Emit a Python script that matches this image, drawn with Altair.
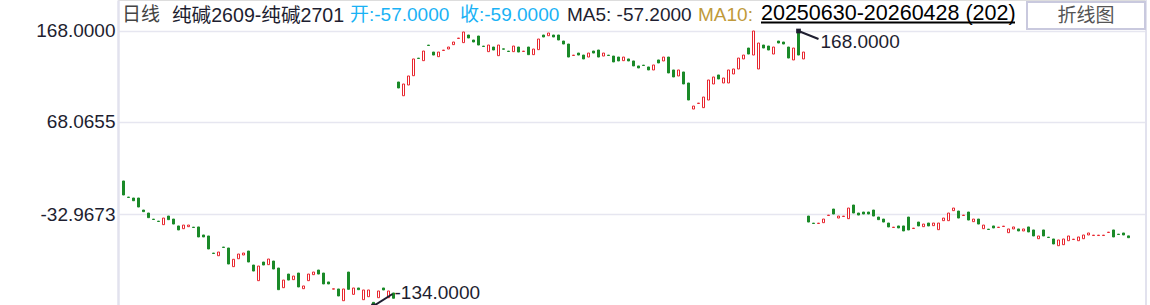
import altair as alt
import pandas as pd

# ---- data (open / close of each daily body) ----
opens = [
    3.3, -14.4, -15.4, -15.4, -28.6, -31.9, -38.6, -40.8, -44.7, -35.2,
    -38.5, -46.1, -49.1, -46.9, -47.4, -47.2, -56.0, -57.1, -75.9, -78.8,
    -69.3, -70.3, -90.8, -82.1, -78.0, -73.6, -89.0, -106.2, -85.7, -88.6,
    -84.6, -92.3, -113.9, -98.9, -105.1, -97.8, -115.0, -106.2, -99.6, -94.5,
    -97.8, -107.6, -115.5, -115.3, -128.2, -96.7, -121.2, -114.2, -127.1, -123.8,
    -130.0, -124.9, -114.2, -124.9, -119.7,
    112.0, 96.9, 108.7, 118.9, 138.2, 135.4, 152.5, 144.9, 139.8, 146.6,
    148.2, 153.0, 159.8, 155.2, 163.6, 158.1, 162.5, 151.4, 145.3, 150.4,
    140.9, 148.4, 145.9, 145.3, 150.4, 145.5, 150.4, 142.0, 147.5, 163.6,
    162.8, 163.6, 163.6, 157.0, 153.7, 141.1, 143.8, 141.6, 139.4, 146.0,
    147.1, 140.5, 141.5, 140.5, 139.4, 135.4, 137.3, 135.1, 129.6, 130.5,
    128.5, 125.2, 136.2, 135.1, 139.4, 125.2, 118.6, 123.0, 110.9, 82.3,
    88.4, 83.8, 92.2, 109.8, 119.7, 110.9, 110.9, 120.8, 126.3, 137.3,
    149.3, 141.6, 126.3, 152.6, 151.5, 142.7, 157.0, 155.9, 150.4, 136.2,
    168.0, 137.3,
    -35.2, -43.0, -43.4, -42.5, -34.6, -27.5, -37.4, -35.7, -38.1, -23.1,
    -31.9, -30.8, -30.8, -28.6, -36.3, -38.5, -42.9, -47.8, -46.1, -46.1,
    -36.3, -48.9, -41.8, -46.9, -42.9, -45.8, -50.2, -40.3, -40.3, -29.3,
    -29.7, -34.6, -30.8, -41.4, -38.5, -49.1, -49.6, -46.1, -47.8, -46.7,
    -53.5, -49.4, -49.4, -51.6, -47.2, -50.5, -60.1, -50.5, -58.4, -60.4,
    -67.8, -66.7, -62.3, -61.0, -62.3, -60.1, -56.0, -56.6, -56.6, -56.6,
    -53.3, -50.5, -55.1, -53.8, -57.0,
]
closes = [
    -12.1, -14.8, -18.4, -25.3, -30.4, -37.0, -39.0, -41.2, -37.4, -39.2,
    -44.0, -50.5, -45.1, -45.1, -47.8, -58.2, -58.2, -71.4, -76.3, -74.7,
    -69.7, -87.9, -82.7, -76.9, -75.8, -85.7, -95.6, -90.1, -89.0, -82.4,
    -93.4, -116.1, -105.5, -105.5, -101.1, -113.1, -112.0, -98.9, -96.7, -98.9,
    -109.8, -109.8, -115.1, -123.0, -115.3, -115.7, -114.2, -116.1, -116.4, -116.4,
    -134.0, -117.5, -116.4, -117.5, -125.5,
    105.4, 109.8, 118.6, 137.3, 137.8, 146.0, 152.1, 141.6, 144.9, 147.0,
    150.4, 155.9, 160.2, 166.9, 160.3, 155.9, 152.6, 151.0, 152.6, 147.1,
    152.6, 148.0, 145.5, 151.5, 144.9, 145.9, 142.0, 148.2, 159.2, 161.4,
    165.8, 161.4, 158.1, 153.7, 139.4, 141.5, 141.6, 137.3, 143.8, 143.8,
    139.4, 143.8, 141.1, 134.0, 135.1, 139.4, 135.1, 129.6, 127.4, 130.1,
    125.2, 130.7, 132.9, 139.4, 121.9, 117.5, 125.2, 109.8, 92.2, 85.6,
    88.8, 95.5, 114.2, 117.5, 115.3, 116.4, 125.2, 126.3, 138.3, 141.6,
    142.7, 168.0, 154.8, 149.3, 147.1, 150.4, 154.8, 153.7, 138.3, 149.3,
    141.6, 144.9,
    -41.8, -43.4, -43.0, -38.5, -34.2, -33.0, -35.2, -35.3, -26.4, -31.9,
    -34.1, -33.0, -33.0, -35.2, -39.2, -41.8, -47.2, -47.4, -48.3, -51.6,
    -50.5, -48.5, -46.1, -44.0, -46.1, -42.9, -42.9, -37.4, -31.9, -26.4,
    -37.4, -34.2, -39.6, -38.5, -44.0, -45.1, -50.0, -48.3, -47.4, -46.3,
    -49.4, -47.2, -51.6, -49.4, -52.7, -57.1, -57.1, -57.1, -58.8, -65.9,
    -61.5, -60.4, -57.1, -60.6, -58.2, -56.0, -53.8, -56.2, -56.2, -56.2,
    -52.9, -58.2, -55.5, -56.0, -59.0,
]
y_ticks = [168.0, 68.0655, -32.9673]
max_idx, max_val, max_label = 135, 168.0, "168.0000"
min_idx, min_val, min_label = 50, -134.0, "-134.0000"

header_parts = ["日线", "纯碱2609-纯碱2701", "开:-57.0000", "收:-59.0000",
                "MA5: -57.2000", "MA10:", "20250630-20260428 (202)"]
button_label = "折线图"

# ---- styling ----
RED = "#e8262f"
GREEN = "#1a8a28"
DARK = "#1e1e30"
GRID = "#e6e6f0"
FONT = "Liberation Sans, Arial, Noto Sans CJK SC"

df = pd.DataFrame({"i": list(range(len(opens))), "open": opens, "close": closes})
df["x0"] = df["i"] - 0.2
df["x1"] = df["i"] + 0.2
df["up"] = df["close"] > df["open"]

W, H = 1028, 305
X = alt.Scale(domain=[-1.1, 204.5], nice=False, zero=False)
Y = alt.Scale(domain=[-132.9, 202.04], nice=False, zero=False)
YAX = alt.Axis(values=y_ticks, grid=True, gridColor=GRID, title=None,
               labelExpr="replace(format(datum.value, '.4f'), '\u2212', '-')",
               gridWidth=1.5, domain=True, domainColor="#e2e2ee", domainWidth=2.5,
               ticks=False, labelFontSize=19, labelColor=DARK, labelFont=FONT,
               labelPadding=3, labelBaseline="middle")

base = alt.Chart(df)
green = base.transform_filter("!datum.up").mark_rect(
    fill=GREEN, stroke=GREEN, strokeWidth=1, clip=True
).encode(
    x=alt.X("x0:Q", scale=X, axis=None),
    x2="x1:Q",
    y=alt.Y("open:Q", scale=Y, axis=YAX),
    y2="close:Q",
)
red = base.transform_filter("datum.up").mark_rect(
    fill="white", stroke=RED, strokeWidth=1, clip=True
).encode(
    x=alt.X("x0:Q", scale=X, axis=None),
    x2="x1:Q",
    y=alt.Y("open:Q", scale=Y, axis=YAX),
    y2="close:Q",
)

one = pd.DataFrame({"k": [0]})
ext = pd.DataFrame({"i": [max_idx, min_idx], "v": [max_val, min_val],
                    "lab": [max_label, min_label]})

max_line = alt.Chart(ext.iloc[[0]]).mark_rule(
    x2Offset=20, y2Offset=8, strokeWidth=2, color=DARK
).encode(x=alt.X("i:Q", scale=X, axis=None), x2="i:Q",
         y=alt.Y("v:Q", scale=Y, axis=YAX), y2="v:Q")
min_line = alt.Chart(ext.iloc[[1]]).mark_rule(
    x2Offset=19, y2Offset=-12, strokeWidth=2, color=DARK
).encode(x=alt.X("i:Q", scale=X, axis=None), x2="i:Q",
         y=alt.Y("v:Q", scale=Y, axis=YAX), y2="v:Q")
blobs = alt.Chart(ext).mark_point(filled=True, size=22, shape="square", color=DARK, opacity=1).encode(
    x=alt.X("i:Q", scale=X, axis=None), y=alt.Y("v:Q", scale=Y, axis=YAX))
max_text = alt.Chart(ext.iloc[[0]]).mark_text(
    align="left", baseline="alphabetic", dx=22, dy=17, fontSize=19, font=FONT, color=DARK
).encode(x=alt.X("i:Q", scale=X, axis=None), y=alt.Y("v:Q", scale=Y, axis=YAX), text="lab:N")
min_text = alt.Chart(ext.iloc[[1]]).mark_text(
    align="left", baseline="alphabetic", dx=21, dy=-7, fontSize=19, font=FONT, color=DARK
).encode(x=alt.X("i:Q", scale=X, axis=None), y=alt.Y("v:Q", scale=Y, axis=YAX), text="lab:N")

# ---- header ----
hdr_x = [4, 54, 232, 342, 449, 580, 643]
hdr_c = ["#444444", DARK, "#1ab2f5", "#1ab2f5", DARK, "#c09a3a", "#000000"]
hdr_s = [19, 19.6, 19, 19, 19, 19, 21.5]
hdr_y = [21, 21.5, 21, 21, 21, 21, 20]
headers = []
for t, px, c, s, py in zip(header_parts, hdr_x, hdr_c, hdr_s, hdr_y):
    headers.append(
        alt.Chart(one).mark_text(text=t, align="left", baseline="alphabetic",
                                 fontSize=s, font=FONT, color=c)
        .encode(x=alt.value(px), y=alt.value(py))
    )
underline = alt.Chart(one).mark_rule(color="#000000", strokeWidth=2).encode(
    x=alt.value(643), x2=alt.value(897), y=alt.value(22.5), y2=alt.value(22.5))
button = alt.Chart(one).mark_rect(fill="white", stroke="#c9c9de", strokeWidth=2).encode(
    x=alt.value(909), x2=alt.value(1027), y=alt.value(2), y2=alt.value(29))
button_text = alt.Chart(one).mark_text(text=button_label, align="center", baseline="alphabetic",
                                       fontSize=19, font=FONT, color="#555555").encode(
    x=alt.value(968), y=alt.value(22))
right_edge = alt.Chart(one).mark_rule(color="#e2e2ee", strokeWidth=2).encode(
    x=alt.value(W), y=alt.value(0), y2=alt.value(H))

chart = alt.layer(
    green, red, right_edge, max_line, min_line, blobs, max_text, min_text,
    *headers, underline, button, button_text
).properties(
    width=W, height=H,
    autosize=alt.AutoSizeParams(type="none"),
    padding={"left": 118, "top": 0, "right": 4, "bottom": 0},
).configure_view(stroke=None).configure(background="white")

chart.save("out.html", embed_options={"renderer": "svg", "actions": False})
